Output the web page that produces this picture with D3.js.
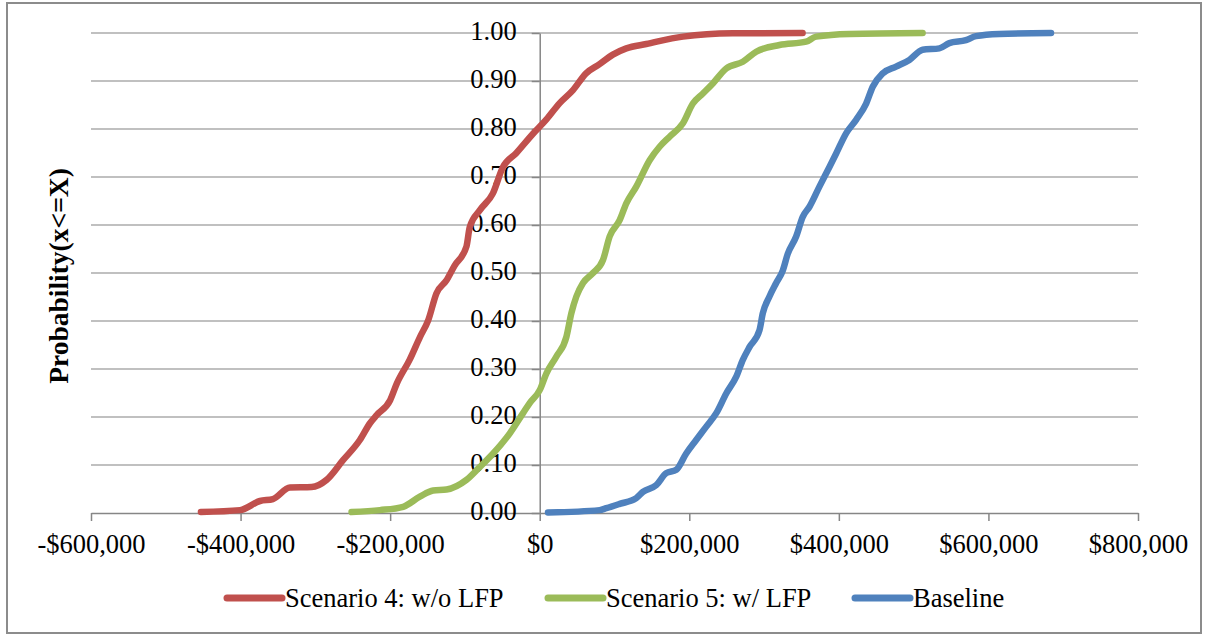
<!DOCTYPE html>
<html>
<head>
<meta charset="utf-8">
<script src="https://cdn.jsdelivr.net/npm/d3@7"></script>
<style>
  html, body { margin: 0; padding: 0; background: #fff; }
  svg { display: block; }
</style>
</head>
<body>
<svg id="chart" width="1209" height="636"></svg>
<script>
// ---- data ----
const seriesNames = ["Scenario 4: w/o LFP", "Scenario 5: w/ LFP", "Baseline"];
const seriesColors = ["#C0504D", "#9BBB59", "#4F81BD"];

const scenario4X = [-453000, -400700, -374000, -356700, -334000, -305000, -285000, -263000, -240500, -227000, -218000, -200000, -191000, -174000, -160000, -149000, -138000, -124600, -114000, -98000, -93500, -80000, -62600, -49400, -31200, -9000, 9000, 26700, 44500, 62000, 80000, 97800, 115800, 142500, 191500, 258000, 351500];
const scenario4P = [0.002, 0.006, 0.025, 0.029, 0.053, 0.054, 0.069, 0.11, 0.152, 0.187, 0.204, 0.235, 0.27, 0.319, 0.367, 0.402, 0.458, 0.485, 0.515, 0.555, 0.596, 0.631, 0.666, 0.72, 0.75, 0.79, 0.82, 0.854, 0.881, 0.916, 0.935, 0.955, 0.968, 0.977, 0.9925, 0.9993, 1.0];

const scenario5X = [-251600, -213800, -182600, -160300, -142500, -124600, -98000, -80000, -62300, -40000, -22300, -13400, 0, 9000, 22300, 35700, 42300, 49000, 57900, 71200, 84600, 93500, 106900, 115800, 129100, 147000, 160300, 173700, 191500, 204800, 218200, 231500, 249400, 271600, 289500, 320600, 356200, 369600, 414000, 512000];
const scenario5P = [0.002, 0.006, 0.013, 0.034, 0.047, 0.049, 0.069, 0.096, 0.124, 0.166, 0.208, 0.229, 0.256, 0.291, 0.326, 0.367, 0.416, 0.451, 0.479, 0.500, 0.527, 0.576, 0.610, 0.645, 0.68, 0.735, 0.763, 0.784, 0.812, 0.853, 0.874, 0.895, 0.926, 0.940, 0.961, 0.975, 0.982, 0.9925, 0.998, 1.0];

const baselineX = [11100, 80000, 89000, 106900, 129100, 138000, 155800, 169100, 182600, 195900, 209200, 222700, 236100, 249400, 262800, 271600, 280600, 293900, 298300, 307200, 316200, 325000, 331700, 342900, 351700, 360700, 374000, 387400, 396400, 409700, 423100, 436500, 445300, 458700, 476500, 494300, 512000, 534400, 547700, 570000, 583400, 614500, 683700];
const baselineP = [0.001, 0.006, 0.01, 0.019, 0.031, 0.044, 0.058, 0.083, 0.09, 0.124, 0.152, 0.18, 0.208, 0.249, 0.284, 0.319, 0.346, 0.381, 0.416, 0.451, 0.479, 0.505, 0.54, 0.576, 0.617, 0.638, 0.68, 0.721, 0.749, 0.791, 0.819, 0.853, 0.888, 0.916, 0.930, 0.944, 0.965, 0.968, 0.979, 0.985, 0.9935, 0.998, 1.0];

const xTicks = [-600000, -400000, -200000, 0, 200000, 400000, 600000, 800000];
const yTicks = [0, 0.1, 0.2, 0.3, 0.4, 0.5, 0.6, 0.7, 0.8, 0.9, 1.0];
const yTitle = "Probability(x<=X)";

// ---- layout ----
const W = 1209, H = 636;
const plot = { left: 91, right: 1138, top: 33, bottom: 513 };
const FONT = "'Liberation Serif', 'Times New Roman', serif";
const FS = 26.5;

const svg = d3.select("#chart");

// outer border
svg.append("rect")
  .attr("x", 7).attr("y", 3).attr("width", 1194).attr("height", 630)
  .attr("fill", "#fff").attr("stroke", "#8c8c8c").attr("stroke-width", 2);

const x = d3.scaleLinear().domain([-600000, 800000]).range([plot.left, plot.right]);
const y = d3.scaleLinear().domain([0, 1]).range([plot.bottom, plot.top]);

// gridlines
svg.append("g").selectAll("line")
  .data(yTicks.filter(d => d > 0))
  .join("line")
  .attr("x1", plot.left).attr("x2", plot.right)
  .attr("y1", d => y(d)).attr("y2", d => y(d))
  .attr("stroke", "#c0c0c0").attr("stroke-width", 2);

// x axis
const fmtMoney = d => (d < 0 ? "-$" : "$") + d3.format(",")(Math.abs(d));
const xAxis = svg.append("g")
  .attr("transform", `translate(0,${plot.bottom})`)
  .call(d3.axisBottom(x).tickValues(xTicks).tickFormat(fmtMoney).tickSize(8).tickSizeOuter(0));
xAxis.select(".domain").attr("stroke", "#868686").attr("stroke-width", 1.5);
xAxis.selectAll(".tick line").attr("stroke", "#868686").attr("stroke-width", 1.5);
xAxis.selectAll(".tick text")
  .attr("y", 40).attr("dy", 0)
  .style("font-family", FONT).style("font-size", FS + "px").attr("fill", "#000");

// y axis at x = 0
const yAxis = svg.append("g")
  .attr("transform", `translate(${x(0)},0)`)
  .call(d3.axisLeft(y).tickValues(yTicks).tickFormat(d3.format(".2f")).tickSize(8).tickSizeOuter(0));
yAxis.select(".domain").attr("stroke", "#868686").attr("stroke-width", 1.5);
yAxis.selectAll(".tick line").attr("stroke", "#868686").attr("stroke-width", 1.5);
yAxis.selectAll(".tick text")
  .attr("x", -23).attr("dy", "0.25em")
  .style("font-family", FONT).style("font-size", FS + "px").attr("fill", "#000");

// y title
svg.append("text")
  .attr("transform", `translate(68,276) rotate(-90)`)
  .attr("text-anchor", "middle")
  .style("font-family", FONT).style("font-size", "27.5px").style("font-weight", "bold")
  .text(yTitle);

// lines
const seriesData = [
  d3.zip(scenario4X, scenario4P),
  d3.zip(scenario5X, scenario5P),
  d3.zip(baselineX, baselineP)
];
const line = d3.line().x(d => x(d[0])).y(d => y(d[1])).curve(d3.curveMonotoneX);
svg.append("g").selectAll("path")
  .data(seriesData)
  .join("path")
  .attr("d", line)
  .attr("fill", "none")
  .attr("stroke", (d, i) => seriesColors[i])
  .attr("stroke-width", 6.5)
  .attr("stroke-linejoin", "round")
  .attr("stroke-linecap", "round");

// legend
const legendX = [227, 548, 855];
const legendY = 598;
const lg = svg.append("g").selectAll("g")
  .data(seriesNames)
  .join("g")
  .attr("transform", (d, i) => `translate(${legendX[i]},${legendY})`);
lg.append("line")
  .attr("x1", 0).attr("x2", 55).attr("y1", 0).attr("y2", 0)
  .attr("stroke", (d, i) => seriesColors[i])
  .attr("stroke-width", 7).attr("stroke-linecap", "round");
lg.append("text")
  .attr("x", 58).attr("y", 9)
  .style("font-family", FONT).style("font-size", FS + "px").attr("fill", "#000")
  .text(d => d);
</script>
</body>
</html>
